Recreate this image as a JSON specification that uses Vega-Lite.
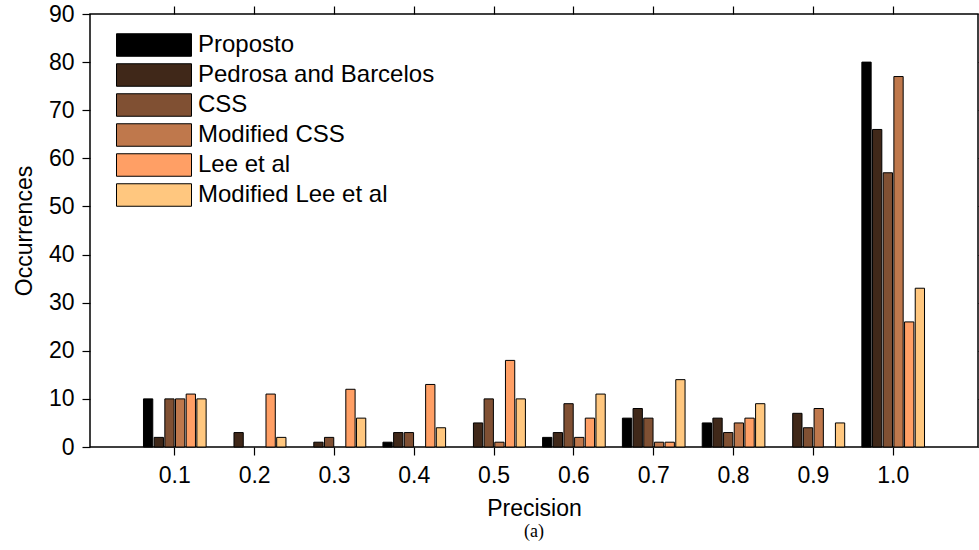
{
  "$schema": "https://vega.github.io/schema/vega-lite/v6.json",
  "width": 888,
  "height": 433,
  "autosize": {"type": "none"},
  "padding": {"left": 90, "top": 14, "right": 1, "bottom": 103},
  "background": "white",
  "config": {
    "font": "Liberation Sans",
    "view": {"stroke": "black", "strokeWidth": 1.5},
    "axis": {"grid": false, "domain": false, "tickColor": "black", "tickSize": 8, "tickWidth": 1.2, "labelColor": "black", "titleColor": "black", "labelFont": "Liberation Sans", "titleFont": "Liberation Sans", "labelFontSize": 23, "titleFontSize": 23, "titleFontWeight": "normal"}
  },
  "title": {"text": "(a)", "orient": "bottom", "font": "Liberation Serif", "fontSize": 18, "fontWeight": "normal", "color": "black", "offset": 3},
  "data": {"values": [
    {"p": "0.1", "m": "Proposto", "v": 10},
    {"p": "0.1", "m": "Pedrosa and Barcelos", "v": 2},
    {"p": "0.1", "m": "CSS", "v": 10},
    {"p": "0.1", "m": "Modified CSS", "v": 10},
    {"p": "0.1", "m": "Lee et al", "v": 11},
    {"p": "0.1", "m": "Modified Lee et al", "v": 10},
    {"p": "0.2", "m": "Pedrosa and Barcelos", "v": 3},
    {"p": "0.2", "m": "Lee et al", "v": 11},
    {"p": "0.2", "m": "Modified Lee et al", "v": 2},
    {"p": "0.3", "m": "Pedrosa and Barcelos", "v": 1},
    {"p": "0.3", "m": "CSS", "v": 2},
    {"p": "0.3", "m": "Lee et al", "v": 12},
    {"p": "0.3", "m": "Modified Lee et al", "v": 6},
    {"p": "0.4", "m": "Proposto", "v": 1},
    {"p": "0.4", "m": "Pedrosa and Barcelos", "v": 3},
    {"p": "0.4", "m": "CSS", "v": 3},
    {"p": "0.4", "m": "Lee et al", "v": 13},
    {"p": "0.4", "m": "Modified Lee et al", "v": 4},
    {"p": "0.5", "m": "Pedrosa and Barcelos", "v": 5},
    {"p": "0.5", "m": "CSS", "v": 10},
    {"p": "0.5", "m": "Modified CSS", "v": 1},
    {"p": "0.5", "m": "Lee et al", "v": 18},
    {"p": "0.5", "m": "Modified Lee et al", "v": 10},
    {"p": "0.6", "m": "Proposto", "v": 2},
    {"p": "0.6", "m": "Pedrosa and Barcelos", "v": 3},
    {"p": "0.6", "m": "CSS", "v": 9},
    {"p": "0.6", "m": "Modified CSS", "v": 2},
    {"p": "0.6", "m": "Lee et al", "v": 6},
    {"p": "0.6", "m": "Modified Lee et al", "v": 11},
    {"p": "0.7", "m": "Proposto", "v": 6},
    {"p": "0.7", "m": "Pedrosa and Barcelos", "v": 8},
    {"p": "0.7", "m": "CSS", "v": 6},
    {"p": "0.7", "m": "Modified CSS", "v": 1},
    {"p": "0.7", "m": "Lee et al", "v": 1},
    {"p": "0.7", "m": "Modified Lee et al", "v": 14},
    {"p": "0.8", "m": "Proposto", "v": 5},
    {"p": "0.8", "m": "Pedrosa and Barcelos", "v": 6},
    {"p": "0.8", "m": "CSS", "v": 3},
    {"p": "0.8", "m": "Modified CSS", "v": 5},
    {"p": "0.8", "m": "Lee et al", "v": 6},
    {"p": "0.8", "m": "Modified Lee et al", "v": 9},
    {"p": "0.9", "m": "Pedrosa and Barcelos", "v": 7},
    {"p": "0.9", "m": "CSS", "v": 4},
    {"p": "0.9", "m": "Modified CSS", "v": 8},
    {"p": "0.9", "m": "Modified Lee et al", "v": 5},
    {"p": "1.0", "m": "Proposto", "v": 80},
    {"p": "1.0", "m": "Pedrosa and Barcelos", "v": 66},
    {"p": "1.0", "m": "CSS", "v": 57},
    {"p": "1.0", "m": "Modified CSS", "v": 77},
    {"p": "1.0", "m": "Lee et al", "v": 26},
    {"p": "1.0", "m": "Modified Lee et al", "v": 33}
  ]},
  "encoding": {
    "x": {"field": "p", "type": "ordinal", "scale": {"domain": ["0.1","0.2","0.3","0.4","0.5","0.6","0.7","0.8","0.9","1.0"], "paddingInner": 0.215, "paddingOuter": 0.67}},
    "xOffset": {"field": "m", "type": "nominal", "scale": {"domain": ["Proposto", "Pedrosa and Barcelos", "CSS", "Modified CSS", "Lee et al", "Modified Lee et al"], "paddingInner": 0.13, "paddingOuter": 0}},
    "y": {"field": "v", "type": "quantitative", "scale": {"domain": [0, 90], "nice": false}}
  },
  "layer": [
    {
      "mark": {"type": "bar", "stroke": "black", "strokeWidth": 1, "opacity": 1},
      "encoding": {
        "x": {"field": "p", "type": "ordinal", "axis": {"orient": "bottom", "title": "Precision", "labelAngle": 0, "labelPadding": 9, "titlePadding": 10}},
        "y": {"field": "v", "type": "quantitative", "axis": {"orient": "left", "title": "Occurrences", "values": [0,10,20,30,40,50,60,70,80,90], "labelPadding": 8, "titlePadding": 12}},
        "color": {"field": "m", "type": "nominal", "scale": {"domain": ["Proposto", "Pedrosa and Barcelos", "CSS", "Modified CSS", "Lee et al", "Modified Lee et al"], "range": ["#000000", "#402819", "#805033", "#BF784C", "#FF9F65", "#FFC77F"]},
          "legend": {"title": null, "orient": "none", "legendX": 52, "legendY": 19, "symbolType": "M-5,-1.5H5V1.5H-5Z", "symbolSize": 225, "symbolStrokeColor": "black", "symbolStrokeWidth": 1, "symbolOpacity": 1, "labelFont": "Liberation Sans", "labelFontSize": 24, "labelColor": "black", "labelOffset": 32, "rowPadding": 2, "labelLimit": 400, "padding": 0}}
      }
    },
    {
      "mark": {"type": "bar", "opacity": 0},
      "encoding": {
        "x": {"field": "p", "type": "ordinal", "axis": {"orient": "top", "title": null, "labels": false}},
        "y": {"field": "v", "type": "quantitative", "axis": {"orient": "right", "title": null, "labels": false, "values": [0,10,20,30,40,50,60,70,80,90]}}
      }
    }
  ],
  "resolve": {"axis": {"x": "independent", "y": "independent"}}
}
